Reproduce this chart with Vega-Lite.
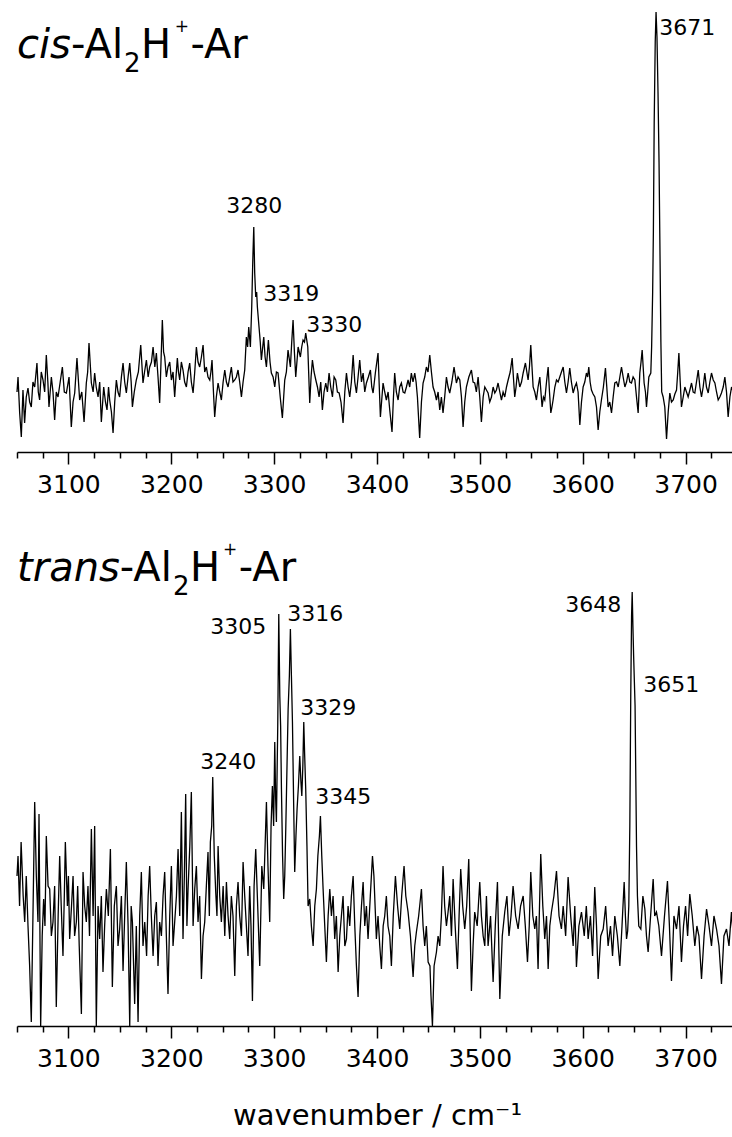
{
"$schema": "https://vega.github.io/schema/vega-lite/v6.json",
"padding": {"left": 14, "top": 0, "right": 0, "bottom": 0},
"background": "white",
"spacing": 42,
"config": {"view": {"stroke": null}, "font": "DejaVu Sans"},
"datasets": {
"cis": [{"wn":3050,"sig":60},{"wn":3051,"sig":75},{"wn":3052.6,"sig":39},{"wn":3054.2,"sig":15},{"wn":3055.8,"sig":62},{"wn":3057.4,"sig":29},{"wn":3059,"sig":55},{"wn":3060.7,"sig":64},{"wn":3062.3,"sig":50},{"wn":3063.9,"sig":45},{"wn":3065.5,"sig":70},{"wn":3067.2,"sig":65},{"wn":3069.4,"sig":89},{"wn":3070.7,"sig":60},{"wn":3072,"sig":52},{"wn":3073.6,"sig":80},{"wn":3075.3,"sig":72},{"wn":3076.9,"sig":60},{"wn":3078.5,"sig":97},{"wn":3080,"sig":70},{"wn":3081.1,"sig":45},{"wn":3083.4,"sig":75},{"wn":3085,"sig":60},{"wn":3086.6,"sig":32},{"wn":3088.2,"sig":60},{"wn":3089.9,"sig":55},{"wn":3092,"sig":70},{"wn":3094.1,"sig":85},{"wn":3096,"sig":60},{"wn":3098,"sig":59},{"wn":3100.6,"sig":75},{"wn":3102.8,"sig":25},{"wn":3104.5,"sig":50},{"wn":3106.1,"sig":59},{"wn":3108.3,"sig":94},{"wn":3110.9,"sig":52},{"wn":3113,"sig":60},{"wn":3115.2,"sig":30},{"wn":3117.4,"sig":69},{"wn":3118.7,"sig":80},{"wn":3120,"sig":109},{"wn":3122.3,"sig":69},{"wn":3124,"sig":60},{"wn":3125.5,"sig":79},{"wn":3127,"sig":65},{"wn":3128.8,"sig":55},{"wn":3130.4,"sig":70},{"wn":3132,"sig":30},{"wn":3134.3,"sig":65},{"wn":3136,"sig":50},{"wn":3137.5,"sig":42},{"wn":3139,"sig":65},{"wn":3140.1,"sig":52},{"wn":3141.8,"sig":40},{"wn":3143.4,"sig":19},{"wn":3145,"sig":50},{"wn":3146.6,"sig":72},{"wn":3148.2,"sig":60},{"wn":3149.8,"sig":55},{"wn":3151.5,"sig":75},{"wn":3153.1,"sig":89},{"wn":3154.7,"sig":70},{"wn":3156.3,"sig":59},{"wn":3158,"sig":75},{"wn":3159.6,"sig":89},{"wn":3161,"sig":70},{"wn":3162.2,"sig":45},{"wn":3164,"sig":60},{"wn":3166,"sig":72},{"wn":3168,"sig":80},{"wn":3170.3,"sig":107},{"wn":3172.5,"sig":69},{"wn":3174,"sig":80},{"wn":3175.8,"sig":92},{"wn":3177.5,"sig":75},{"wn":3179,"sig":85},{"wn":3180.7,"sig":90},{"wn":3182.3,"sig":105},{"wn":3184,"sig":85},{"wn":3185.5,"sig":99},{"wn":3187.1,"sig":75},{"wn":3188.7,"sig":49},{"wn":3190,"sig":90},{"wn":3191.3,"sig":132},{"wn":3192.5,"sig":100},{"wn":3193.6,"sig":95},{"wn":3195.2,"sig":75},{"wn":3196.8,"sig":85},{"wn":3198.5,"sig":90},{"wn":3200.1,"sig":72},{"wn":3201.7,"sig":80},{"wn":3203.3,"sig":55},{"wn":3204.6,"sig":75},{"wn":3205.9,"sig":94},{"wn":3207,"sig":80},{"wn":3208.2,"sig":72},{"wn":3209.8,"sig":90},{"wn":3211.4,"sig":82},{"wn":3213,"sig":70},{"wn":3214.7,"sig":65},{"wn":3216.3,"sig":80},{"wn":3217.9,"sig":89},{"wn":3219.5,"sig":70},{"wn":3221.2,"sig":59},{"wn":3222.8,"sig":80},{"wn":3224.4,"sig":105},{"wn":3226,"sig":90},{"wn":3227.6,"sig":85},{"wn":3229.3,"sig":95},{"wn":3230.9,"sig":107},{"wn":3232.5,"sig":80},{"wn":3234.1,"sig":85},{"wn":3235.7,"sig":75},{"wn":3237.4,"sig":72},{"wn":3238.5,"sig":80},{"wn":3239.6,"sig":92},{"wn":3241,"sig":60},{"wn":3242.2,"sig":35},{"wn":3243.8,"sig":55},{"wn":3245.5,"sig":69},{"wn":3247.1,"sig":60},{"wn":3248.7,"sig":52},{"wn":3250.4,"sig":70},{"wn":3252,"sig":82},{"wn":3253.6,"sig":70},{"wn":3255.2,"sig":65},{"wn":3256.8,"sig":75},{"wn":3258.4,"sig":85},{"wn":3260,"sig":70},{"wn":3261.7,"sig":72},{"wn":3263.3,"sig":75},{"wn":3264.9,"sig":82},{"wn":3266.5,"sig":70},{"wn":3268.2,"sig":55},{"wn":3269.8,"sig":70},{"wn":3271.4,"sig":82},{"wn":3273,"sig":115},{"wn":3274.2,"sig":105},{"wn":3275.3,"sig":125},{"wn":3276.9,"sig":105},{"wn":3278.2,"sig":145},{"wn":3279.2,"sig":190},{"wn":3280.2,"sig":225},{"wn":3281.1,"sig":179},{"wn":3282.1,"sig":155},{"wn":3283,"sig":160},{"wn":3283.7,"sig":145},{"wn":3285.3,"sig":125},{"wn":3286.5,"sig":110},{"wn":3287.6,"sig":92},{"wn":3289.9,"sig":115},{"wn":3291.2,"sig":95},{"wn":3292.5,"sig":85},{"wn":3294.4,"sig":112},{"wn":3296,"sig":90},{"wn":3297.3,"sig":79},{"wn":3299,"sig":75},{"wn":3300.6,"sig":65},{"wn":3302.2,"sig":80},{"wn":3303.8,"sig":79},{"wn":3305.9,"sig":55},{"wn":3308,"sig":34},{"wn":3310.3,"sig":72},{"wn":3311.9,"sig":80},{"wn":3313.5,"sig":102},{"wn":3315.8,"sig":85},{"wn":3317.1,"sig":110},{"wn":3318.4,"sig":132},{"wn":3319.7,"sig":100},{"wn":3321,"sig":75},{"wn":3323.3,"sig":105},{"wn":3325.5,"sig":95},{"wn":3326.8,"sig":105},{"wn":3328.1,"sig":112},{"wn":3329.5,"sig":110},{"wn":3330.7,"sig":119},{"wn":3332.7,"sig":105},{"wn":3334.6,"sig":49},{"wn":3335.9,"sig":75},{"wn":3337.2,"sig":92},{"wn":3338.8,"sig":80},{"wn":3340.5,"sig":72},{"wn":3342.1,"sig":65},{"wn":3343.7,"sig":55},{"wn":3345.3,"sig":70},{"wn":3346.9,"sig":42},{"wn":3348.5,"sig":60},{"wn":3350.2,"sig":69},{"wn":3351.8,"sig":60},{"wn":3353.4,"sig":79},{"wn":3355,"sig":65},{"wn":3356.7,"sig":55},{"wn":3358.3,"sig":75},{"wn":3359.9,"sig":72},{"wn":3361.5,"sig":60},{"wn":3363.2,"sig":59},{"wn":3365,"sig":50},{"wn":3367,"sig":29},{"wn":3368.7,"sig":60},{"wn":3370.3,"sig":79},{"wn":3371.9,"sig":65},{"wn":3373.5,"sig":55},{"wn":3375.1,"sig":70},{"wn":3376.8,"sig":97},{"wn":3378.4,"sig":70},{"wn":3380,"sig":59},{"wn":3381.6,"sig":75},{"wn":3383.2,"sig":92},{"wn":3384.9,"sig":70},{"wn":3386.5,"sig":79},{"wn":3388.1,"sig":60},{"wn":3389.7,"sig":69},{"wn":3391.6,"sig":75},{"wn":3393.6,"sig":82},{"wn":3394.9,"sig":65},{"wn":3396.2,"sig":59},{"wn":3398.4,"sig":79},{"wn":3401,"sig":99},{"wn":3403.3,"sig":35},{"wn":3405.9,"sig":69},{"wn":3407.5,"sig":60},{"wn":3409.1,"sig":52},{"wn":3410.8,"sig":60},{"wn":3412.4,"sig":42},{"wn":3414.6,"sig":20},{"wn":3416,"sig":55},{"wn":3417.2,"sig":79},{"wn":3418.8,"sig":60},{"wn":3420.5,"sig":52},{"wn":3422.1,"sig":65},{"wn":3423.7,"sig":69},{"wn":3425.4,"sig":60},{"wn":3427,"sig":59},{"wn":3428.6,"sig":65},{"wn":3430.2,"sig":72},{"wn":3431.8,"sig":65},{"wn":3433.4,"sig":79},{"wn":3435,"sig":70},{"wn":3436.7,"sig":79},{"wn":3438,"sig":70},{"wn":3439.3,"sig":55},{"wn":3441.5,"sig":14},{"wn":3443.2,"sig":50},{"wn":3444.8,"sig":69},{"wn":3446.4,"sig":75},{"wn":3448,"sig":85},{"wn":3449.6,"sig":80},{"wn":3451.3,"sig":97},{"wn":3452.9,"sig":80},{"wn":3454.5,"sig":65},{"wn":3456.1,"sig":60},{"wn":3457.8,"sig":52},{"wn":3459.4,"sig":60},{"wn":3461,"sig":42},{"wn":3462.6,"sig":55},{"wn":3464.2,"sig":39},{"wn":3465.8,"sig":55},{"wn":3467.5,"sig":75},{"wn":3469.1,"sig":65},{"wn":3470.7,"sig":59},{"wn":3472.8,"sig":70},{"wn":3474.9,"sig":85},{"wn":3477.2,"sig":69},{"wn":3478.8,"sig":75},{"wn":3480.5,"sig":72},{"wn":3482.1,"sig":55},{"wn":3483.7,"sig":25},{"wn":3485.3,"sig":50},{"wn":3486.9,"sig":65},{"wn":3489.3,"sig":75},{"wn":3491.8,"sig":82},{"wn":3493.4,"sig":70},{"wn":3495,"sig":69},{"wn":3496.6,"sig":60},{"wn":3498.3,"sig":75},{"wn":3499.9,"sig":55},{"wn":3501.5,"sig":30},{"wn":3503.2,"sig":55},{"wn":3504.8,"sig":65},{"wn":3506.4,"sig":62},{"wn":3508,"sig":59},{"wn":3509.6,"sig":50},{"wn":3511.3,"sig":55},{"wn":3512.9,"sig":65},{"wn":3514.5,"sig":59},{"wn":3516.1,"sig":62},{"wn":3517.7,"sig":69},{"wn":3519.4,"sig":60},{"wn":3521,"sig":52},{"wn":3522.6,"sig":60},{"wn":3524.2,"sig":55},{"wn":3525.9,"sig":65},{"wn":3527.5,"sig":72},{"wn":3529.5,"sig":80},{"wn":3531.4,"sig":94},{"wn":3533.9,"sig":55},{"wn":3535.2,"sig":65},{"wn":3536.5,"sig":79},{"wn":3538.8,"sig":65},{"wn":3540.5,"sig":70},{"wn":3542.1,"sig":79},{"wn":3544.3,"sig":89},{"wn":3546.9,"sig":72},{"wn":3548.2,"sig":85},{"wn":3549.5,"sig":107},{"wn":3550.7,"sig":85},{"wn":3551.8,"sig":65},{"wn":3553.4,"sig":60},{"wn":3555,"sig":52},{"wn":3556.6,"sig":65},{"wn":3558.3,"sig":75},{"wn":3560.5,"sig":45},{"wn":3561.8,"sig":55},{"wn":3563.1,"sig":52},{"wn":3564.8,"sig":70},{"wn":3566.4,"sig":85},{"wn":3567.7,"sig":60},{"wn":3569,"sig":39},{"wn":3570.1,"sig":45},{"wn":3571.2,"sig":52},{"wn":3572.9,"sig":65},{"wn":3574.5,"sig":72},{"wn":3576.1,"sig":70},{"wn":3577.7,"sig":75},{"wn":3579.3,"sig":80},{"wn":3581,"sig":85},{"wn":3582.6,"sig":70},{"wn":3584.2,"sig":59},{"wn":3585.8,"sig":70},{"wn":3587.4,"sig":84},{"wn":3589,"sig":70},{"wn":3590.7,"sig":59},{"wn":3592.3,"sig":65},{"wn":3593.9,"sig":69},{"wn":3595.5,"sig":60},{"wn":3597.2,"sig":27},{"wn":3598.8,"sig":50},{"wn":3600.4,"sig":65},{"wn":3602,"sig":70},{"wn":3603.6,"sig":79},{"wn":3604.8,"sig":75},{"wn":3605.9,"sig":85},{"wn":3607.2,"sig":70},{"wn":3608.5,"sig":62},{"wn":3610.1,"sig":58},{"wn":3611.8,"sig":55},{"wn":3613.4,"sig":45},{"wn":3615,"sig":22},{"wn":3616.6,"sig":40},{"wn":3618.2,"sig":52},{"wn":3620.1,"sig":65},{"wn":3622.1,"sig":84},{"wn":3623.4,"sig":65},{"wn":3624.7,"sig":45},{"wn":3626.3,"sig":50},{"wn":3628,"sig":39},{"wn":3629.6,"sig":55},{"wn":3631.2,"sig":69},{"wn":3632.9,"sig":70},{"wn":3634.5,"sig":65},{"wn":3636.1,"sig":75},{"wn":3637.7,"sig":85},{"wn":3639.3,"sig":75},{"wn":3641,"sig":65},{"wn":3642.6,"sig":70},{"wn":3644.2,"sig":79},{"wn":3645.8,"sig":70},{"wn":3647.4,"sig":69},{"wn":3649,"sig":75},{"wn":3650.7,"sig":72},{"wn":3652.3,"sig":55},{"wn":3653.9,"sig":39},{"wn":3655.5,"sig":79},{"wn":3656.7,"sig":90},{"wn":3657.8,"sig":102},{"wn":3659.7,"sig":69},{"wn":3661,"sig":60},{"wn":3662,"sig":45},{"wn":3663.2,"sig":60},{"wn":3664.3,"sig":75},{"wn":3666.2,"sig":79},{"wn":3667,"sig":105},{"wn":3668,"sig":160},{"wn":3668.7,"sig":220},{"wn":3669.5,"sig":330},{"wn":3670.5,"sig":410},{"wn":3671.3,"sig":440},{"wn":3672.2,"sig":415},{"wn":3673.2,"sig":360},{"wn":3674.2,"sig":290},{"wn":3675,"sig":212},{"wn":3676,"sig":110},{"wn":3676.8,"sig":60},{"wn":3678.2,"sig":55},{"wn":3679.8,"sig":45},{"wn":3681.5,"sig":13},{"wn":3683.1,"sig":40},{"wn":3684.7,"sig":59},{"wn":3686.3,"sig":50},{"wn":3688,"sig":52},{"wn":3689.6,"sig":58},{"wn":3691.2,"sig":62},{"wn":3692.4,"sig":80},{"wn":3693.5,"sig":99},{"wn":3694.8,"sig":70},{"wn":3696,"sig":45},{"wn":3697.7,"sig":55},{"wn":3699.3,"sig":65},{"wn":3700.9,"sig":60},{"wn":3702.5,"sig":55},{"wn":3704.2,"sig":62},{"wn":3705.8,"sig":69},{"wn":3707.4,"sig":60},{"wn":3709,"sig":59},{"wn":3710.6,"sig":70},{"wn":3712.3,"sig":82},{"wn":3713.9,"sig":65},{"wn":3715.5,"sig":55},{"wn":3717.1,"sig":65},{"wn":3718.7,"sig":79},{"wn":3720.3,"sig":65},{"wn":3722,"sig":59},{"wn":3723.6,"sig":70},{"wn":3725.2,"sig":79},{"wn":3726.9,"sig":72},{"wn":3728.5,"sig":69},{"wn":3730.1,"sig":60},{"wn":3731.7,"sig":52},{"wn":3733.3,"sig":55},{"wn":3734.9,"sig":59},{"wn":3736.6,"sig":65},{"wn":3738.2,"sig":75},{"wn":3739.8,"sig":60},{"wn":3741.4,"sig":35},{"wn":3743.1,"sig":55},{"wn":3744.7,"sig":65},{"wn":3746.3,"sig":60},{"wn":3747.9,"sig":62},{"wn":3750,"sig":60}],
"trans": [{"wn":3050,"sig":150},{"wn":3051,"sig":170},{"wn":3052.5,"sig":120},{"wn":3054,"sig":184},{"wn":3056,"sig":130},{"wn":3057.5,"sig":104},{"wn":3059,"sig":150},{"wn":3060.7,"sig":100},{"wn":3062.3,"sig":60},{"wn":3063.9,"sig":4},{"wn":3065.5,"sig":110},{"wn":3067.2,"sig":224},{"wn":3068.8,"sig":150},{"wn":3070.4,"sig":104},{"wn":3071.4,"sig":212},{"wn":3073,"sig":0},{"wn":3074.5,"sig":90},{"wn":3075.9,"sig":127},{"wn":3077.2,"sig":100},{"wn":3078.5,"sig":190},{"wn":3080.2,"sig":140},{"wn":3081.8,"sig":137},{"wn":3083.4,"sig":90},{"wn":3085,"sig":104},{"wn":3086.6,"sig":140},{"wn":3088.2,"sig":19},{"wn":3090,"sig":110},{"wn":3091.5,"sig":170},{"wn":3093,"sig":120},{"wn":3094.7,"sig":70},{"wn":3096,"sig":130},{"wn":3097,"sig":184},{"wn":3099,"sig":120},{"wn":3100,"sig":150},{"wn":3101.2,"sig":87},{"wn":3103,"sig":120},{"wn":3104.5,"sig":150},{"wn":3106,"sig":90},{"wn":3107.7,"sig":104},{"wn":3109,"sig":140},{"wn":3110.5,"sig":80},{"wn":3112.6,"sig":12},{"wn":3114.2,"sig":154},{"wn":3115.8,"sig":120},{"wn":3117.4,"sig":104},{"wn":3119,"sig":140},{"wn":3120.5,"sig":90},{"wn":3122.3,"sig":197},{"wn":3124,"sig":110},{"wn":3125.5,"sig":200},{"wn":3127.1,"sig":0},{"wn":3128.8,"sig":120},{"wn":3130.4,"sig":87},{"wn":3132,"sig":130},{"wn":3133.6,"sig":54},{"wn":3135.2,"sig":100},{"wn":3136.9,"sig":137},{"wn":3138.8,"sig":110},{"wn":3140.8,"sig":177},{"wn":3142.7,"sig":39},{"wn":3144.6,"sig":120},{"wn":3146.6,"sig":140},{"wn":3148.2,"sig":80},{"wn":3149.8,"sig":97},{"wn":3151.5,"sig":130},{"wn":3153.1,"sig":55},{"wn":3154.7,"sig":110},{"wn":3156.3,"sig":164},{"wn":3158,"sig":100},{"wn":3159.6,"sig":0},{"wn":3161,"sig":120},{"wn":3162.2,"sig":104},{"wn":3164.4,"sig":22},{"wn":3166,"sig":100},{"wn":3167.7,"sig":4},{"wn":3169.3,"sig":110},{"wn":3170.9,"sig":154},{"wn":3172.5,"sig":80},{"wn":3174.2,"sig":104},{"wn":3176,"sig":70},{"wn":3177.5,"sig":130},{"wn":3179,"sig":160},{"wn":3180.6,"sig":110},{"wn":3182.3,"sig":70},{"wn":3183.9,"sig":110},{"wn":3185.5,"sig":124},{"wn":3187.1,"sig":60},{"wn":3188.7,"sig":104},{"wn":3190.4,"sig":90},{"wn":3192,"sig":130},{"wn":3193.6,"sig":154},{"wn":3195.2,"sig":90},{"wn":3196.8,"sig":32},{"wn":3198.5,"sig":110},{"wn":3200.1,"sig":160},{"wn":3201.7,"sig":80},{"wn":3203.3,"sig":104},{"wn":3205,"sig":130},{"wn":3206.6,"sig":177},{"wn":3208.2,"sig":110},{"wn":3209.8,"sig":214},{"wn":3211.4,"sig":87},{"wn":3212.7,"sig":150},{"wn":3214,"sig":232},{"wn":3215.2,"sig":100},{"wn":3216.3,"sig":137},{"wn":3218,"sig":180},{"wn":3219.5,"sig":234},{"wn":3221.2,"sig":100},{"wn":3222.8,"sig":137},{"wn":3224.4,"sig":160},{"wn":3226,"sig":104},{"wn":3227.6,"sig":130},{"wn":3229.3,"sig":47},{"wn":3230.9,"sig":90},{"wn":3232.5,"sig":104},{"wn":3234.1,"sig":140},{"wn":3235.7,"sig":174},{"wn":3237,"sig":110},{"wn":3238,"sig":184},{"wn":3239.3,"sig":200},{"wn":3240.3,"sig":249},{"wn":3241.8,"sig":170},{"wn":3243.2,"sig":134},{"wn":3244.4,"sig":110},{"wn":3245.5,"sig":180},{"wn":3247.1,"sig":130},{"wn":3248.7,"sig":104},{"wn":3250.4,"sig":140},{"wn":3252,"sig":90},{"wn":3253.6,"sig":144},{"wn":3255.2,"sig":110},{"wn":3256.8,"sig":87},{"wn":3258.4,"sig":130},{"wn":3260,"sig":110},{"wn":3261.7,"sig":50},{"wn":3263.3,"sig":120},{"wn":3264.9,"sig":144},{"wn":3266.5,"sig":110},{"wn":3268.2,"sig":90},{"wn":3269.8,"sig":164},{"wn":3271.4,"sig":130},{"wn":3273,"sig":100},{"wn":3274.6,"sig":70},{"wn":3276.2,"sig":140},{"wn":3277.5,"sig":100},{"wn":3278.9,"sig":25},{"wn":3280.5,"sig":140},{"wn":3282.1,"sig":177},{"wn":3284,"sig":120},{"wn":3286,"sig":60},{"wn":3288,"sig":160},{"wn":3289.9,"sig":137},{"wn":3291.2,"sig":180},{"wn":3292.5,"sig":224},{"wn":3294,"sig":160},{"wn":3295.7,"sig":104},{"wn":3297,"sig":200},{"wn":3298.3,"sig":240},{"wn":3299.5,"sig":200},{"wn":3300.6,"sig":284},{"wn":3301.4,"sig":230},{"wn":3302.2,"sig":204},{"wn":3303.5,"sig":300},{"wn":3304.5,"sig":412},{"wn":3305.5,"sig":330},{"wn":3306.3,"sig":300},{"wn":3307.1,"sig":237},{"wn":3308.2,"sig":170},{"wn":3309.3,"sig":127},{"wn":3310.3,"sig":150},{"wn":3311.3,"sig":197},{"wn":3312.5,"sig":260},{"wn":3313.6,"sig":317},{"wn":3314.8,"sig":350},{"wn":3315.8,"sig":397},{"wn":3316.8,"sig":350},{"wn":3317.8,"sig":304},{"wn":3319,"sig":220},{"wn":3320,"sig":154},{"wn":3321.2,"sig":190},{"wn":3322.3,"sig":217},{"wn":3323.6,"sig":240},{"wn":3324.9,"sig":270},{"wn":3326,"sig":245},{"wn":3326.9,"sig":230},{"wn":3327.9,"sig":260},{"wn":3328.8,"sig":304},{"wn":3329.7,"sig":270},{"wn":3330.7,"sig":237},{"wn":3331.9,"sig":180},{"wn":3333,"sig":120},{"wn":3334.6,"sig":127},{"wn":3336.2,"sig":100},{"wn":3337.9,"sig":80},{"wn":3339.5,"sig":120},{"wn":3341.1,"sig":137},{"wn":3342.5,"sig":170},{"wn":3344,"sig":190},{"wn":3345,"sig":210},{"wn":3346.3,"sig":170},{"wn":3347.6,"sig":137},{"wn":3349.2,"sig":100},{"wn":3350.8,"sig":64},{"wn":3352.5,"sig":110},{"wn":3354.1,"sig":137},{"wn":3355.7,"sig":110},{"wn":3357.3,"sig":130},{"wn":3358.9,"sig":87},{"wn":3360.5,"sig":110},{"wn":3362.2,"sig":54},{"wn":3363.8,"sig":90},{"wn":3365.4,"sig":110},{"wn":3367,"sig":130},{"wn":3368.7,"sig":80},{"wn":3370.3,"sig":87},{"wn":3371.9,"sig":120},{"wn":3373.5,"sig":100},{"wn":3375.1,"sig":130},{"wn":3376.8,"sig":150},{"wn":3378.4,"sig":100},{"wn":3380,"sig":60},{"wn":3381.6,"sig":29},{"wn":3383.3,"sig":90},{"wn":3384.9,"sig":120},{"wn":3386.5,"sig":144},{"wn":3388.1,"sig":100},{"wn":3389.7,"sig":120},{"wn":3391.3,"sig":87},{"wn":3393.5,"sig":130},{"wn":3395.6,"sig":170},{"wn":3397,"sig":150},{"wn":3399.4,"sig":87},{"wn":3401,"sig":110},{"wn":3402.7,"sig":80},{"wn":3404.3,"sig":57},{"wn":3406,"sig":100},{"wn":3407.5,"sig":110},{"wn":3409.1,"sig":130},{"wn":3410.7,"sig":100},{"wn":3412.4,"sig":90},{"wn":3414,"sig":60},{"wn":3415.8,"sig":110},{"wn":3417.9,"sig":150},{"wn":3420,"sig":120},{"wn":3422.1,"sig":97},{"wn":3424,"sig":130},{"wn":3426.3,"sig":160},{"wn":3428,"sig":130},{"wn":3430.2,"sig":114},{"wn":3432.5,"sig":90},{"wn":3435.1,"sig":49},{"wn":3436.7,"sig":80},{"wn":3438.3,"sig":94},{"wn":3440.5,"sig":110},{"wn":3443.2,"sig":137},{"wn":3444.8,"sig":100},{"wn":3446.4,"sig":80},{"wn":3448,"sig":100},{"wn":3449.7,"sig":64},{"wn":3451.5,"sig":60},{"wn":3452.5,"sig":30},{"wn":3453.9,"sig":0},{"wn":3455.5,"sig":60},{"wn":3457.8,"sig":74},{"wn":3459.4,"sig":90},{"wn":3461,"sig":80},{"wn":3462.6,"sig":110},{"wn":3464.2,"sig":160},{"wn":3465.8,"sig":120},{"wn":3467.5,"sig":100},{"wn":3469.1,"sig":114},{"wn":3470.7,"sig":130},{"wn":3472.4,"sig":90},{"wn":3474,"sig":147},{"wn":3476,"sig":100},{"wn":3478.2,"sig":57},{"wn":3479.8,"sig":110},{"wn":3481.4,"sig":157},{"wn":3483.3,"sig":120},{"wn":3485.3,"sig":97},{"wn":3487.2,"sig":120},{"wn":3489.2,"sig":167},{"wn":3490.5,"sig":100},{"wn":3491.8,"sig":35},{"wn":3493.4,"sig":80},{"wn":3495,"sig":114},{"wn":3497.4,"sig":100},{"wn":3499.9,"sig":144},{"wn":3501.5,"sig":110},{"wn":3503.2,"sig":90},{"wn":3504.8,"sig":80},{"wn":3506.4,"sig":130},{"wn":3508,"sig":80},{"wn":3510.4,"sig":110},{"wn":3512.9,"sig":44},{"wn":3515,"sig":100},{"wn":3517.1,"sig":144},{"wn":3518.2,"sig":90},{"wn":3519.4,"sig":27},{"wn":3521.8,"sig":90},{"wn":3524.2,"sig":114},{"wn":3526.3,"sig":130},{"wn":3528.3,"sig":90},{"wn":3530.3,"sig":110},{"wn":3532.3,"sig":140},{"wn":3534.8,"sig":110},{"wn":3537.2,"sig":97},{"wn":3539.6,"sig":120},{"wn":3542.1,"sig":130},{"wn":3544.2,"sig":100},{"wn":3546.3,"sig":64},{"wn":3548,"sig":100},{"wn":3549.5,"sig":154},{"wn":3551.5,"sig":110},{"wn":3553.4,"sig":97},{"wn":3555,"sig":110},{"wn":3556.6,"sig":57},{"wn":3558,"sig":120},{"wn":3559.2,"sig":172},{"wn":3561.2,"sig":120},{"wn":3563.1,"sig":87},{"wn":3564.8,"sig":110},{"wn":3566.4,"sig":57},{"wn":3568,"sig":100},{"wn":3569.6,"sig":114},{"wn":3572,"sig":130},{"wn":3574.5,"sig":155},{"wn":3577,"sig":110},{"wn":3579.3,"sig":97},{"wn":3581,"sig":120},{"wn":3583.4,"sig":90},{"wn":3585.8,"sig":149},{"wn":3588.3,"sig":110},{"wn":3590.7,"sig":80},{"wn":3592.3,"sig":120},{"wn":3593.9,"sig":59},{"wn":3596.3,"sig":100},{"wn":3598.8,"sig":114},{"wn":3601.5,"sig":90},{"wn":3603.5,"sig":120},{"wn":3605.3,"sig":87},{"wn":3607.5,"sig":110},{"wn":3609.6,"sig":70},{"wn":3611.7,"sig":139},{"wn":3613.4,"sig":100},{"wn":3615,"sig":47},{"wn":3617.5,"sig":90},{"wn":3619.9,"sig":97},{"wn":3622.3,"sig":120},{"wn":3624.7,"sig":80},{"wn":3627,"sig":100},{"wn":3629,"sig":70},{"wn":3631.2,"sig":110},{"wn":3633.7,"sig":90},{"wn":3636.1,"sig":60},{"wn":3638.2,"sig":100},{"wn":3640.3,"sig":144},{"wn":3641.5,"sig":110},{"wn":3642.6,"sig":87},{"wn":3643.7,"sig":95},{"wn":3644.8,"sig":120},{"wn":3645.8,"sig":200},{"wn":3646.7,"sig":330},{"wn":3647.5,"sig":410},{"wn":3648.1,"sig":434},{"wn":3648.8,"sig":400},{"wn":3649.5,"sig":370},{"wn":3650.2,"sig":345},{"wn":3650.9,"sig":320},{"wn":3651.6,"sig":250},{"wn":3652.3,"sig":180},{"wn":3653.2,"sig":130},{"wn":3654.5,"sig":100},{"wn":3656.5,"sig":97},{"wn":3658.5,"sig":130},{"wn":3660.4,"sig":117},{"wn":3662,"sig":90},{"wn":3663.6,"sig":74},{"wn":3666,"sig":110},{"wn":3668.5,"sig":147},{"wn":3670,"sig":110},{"wn":3671.7,"sig":114},{"wn":3674,"sig":100},{"wn":3676.6,"sig":70},{"wn":3679.5,"sig":110},{"wn":3682.4,"sig":145},{"wn":3684.3,"sig":100},{"wn":3686.3,"sig":45},{"wn":3688.7,"sig":110},{"wn":3691.2,"sig":97},{"wn":3693.6,"sig":120},{"wn":3696,"sig":64},{"wn":3698,"sig":100},{"wn":3700,"sig":120},{"wn":3702,"sig":90},{"wn":3704.1,"sig":132},{"wn":3706.5,"sig":110},{"wn":3709,"sig":80},{"wn":3711,"sig":100},{"wn":3713,"sig":90},{"wn":3715.5,"sig":47},{"wn":3718,"sig":90},{"wn":3720.4,"sig":117},{"wn":3722.8,"sig":100},{"wn":3725.2,"sig":80},{"wn":3727.6,"sig":110},{"wn":3730.1,"sig":97},{"wn":3732.5,"sig":80},{"wn":3734.9,"sig":42},{"wn":3737.3,"sig":90},{"wn":3739.8,"sig":97},{"wn":3742.2,"sig":80},{"wn":3744.6,"sig":114},{"wn":3746.3,"sig":90},{"wn":3748,"sig":100},{"wn":3750,"sig":95}],
"cisPeaks": [{"wn":3253.4,"sig":239,"label":"3280"},{"wn":3289.4,"sig":151,"label":"3319"},{"wn":3331.2,"sig":120,"label":"3330"},{"wn":3674.4,"sig":417,"label":"3671"}],
"transPeaks": [{"wn":3237.8,"sig":392,"label":"3305"},{"wn":3312.7,"sig":405,"label":"3316"},{"wn":3325.3,"sig":311,"label":"3329"},{"wn":3228.1,"sig":257,"label":"3240"},{"wn":3339.9,"sig":222,"label":"3345"},{"wn":3583.0,"sig":414,"label":"3648"},{"wn":3658.8,"sig":334,"label":"3651"}],
"cisItalic": [{"wn":3050,"sig":394,"t":"cis"}],
"cisPlain": [{"wn":3102.5,"sig":394,"t":"-Al"},{"wn":3170.6,"sig":394,"t":"H"},{"wn":3218.6,"sig":394,"t":"-Ar"}],
"cisSub": [{"wn":3154.0,"sig":380,"t":"2"}],
"cisSup": [{"wn":3203.4,"sig":420,"t":"+"}],
"transItalic": [{"wn":3050,"sig":445,"t":"trans"}],
"transPlain": [{"wn":3149.9,"sig":445,"t":"-Al"},{"wn":3218.2,"sig":445,"t":"H"},{"wn":3265.6,"sig":445,"t":"-Ar"}],
"transSub": [{"wn":3201.7,"sig":431,"t":"2"}],
"transSup": [{"wn":3250.3,"sig":471,"t":"+"}]
},
"vconcat": [
{
"width": 720, "height": 452,
"encoding": {
"x": {"field": "wn", "type": "quantitative", "scale": {"domain": [3050, 3750], "nice": false, "zero": false},
"axis": {"values": [3050,3075,3100,3125,3150,3175,3200,3225,3250,3275,3300,3325,3350,3375,3400,3425,3450,3475,3500,3525,3550,3575,3600,3625,3650,3675,3700,3725,3750], "format": "d", "labelExpr": "datum.value % 100 === 0 ? datum.label : ''", "tickSize": {"condition": {"test": "datum.value % 100 === 0", "value": 12}, "value": 6}, "labelFontSize": 25, "labelColor": "black", "labelPadding": 8, "labelFont": "DejaVu Sans", "domainColor": "black", "domainWidth": 1.5, "tickColor": "black", "tickWidth": 1.5, "grid": false, "labelFlush": false, "labelOverlap": false, "title": null}},
"y": {"field": "sig", "type": "quantitative", "scale": {"domain": [0, 452], "nice": false}, "axis": null}
},
"layer": [
{"data": {"name": "cis"}, "mark": {"type": "line", "color": "black", "strokeWidth": 1.3}},
{"data": {"name": "cisPeaks"}, "mark": {"type": "text", "align": "left", "baseline": "alphabetic", "fontSize": 22, "font": "DejaVu Sans", "color": "black"}, "encoding": {"text": {"field": "label"}}},
{"data": {"name": "cisItalic"}, "mark": {"type": "text", "align": "left", "baseline": "alphabetic", "fontSize": 40, "font": "DejaVu Sans", "fontStyle": "italic", "color": "black"}, "encoding": {"text": {"field": "t"}}},
{"data": {"name": "cisPlain"}, "mark": {"type": "text", "align": "left", "baseline": "alphabetic", "fontSize": 40, "font": "DejaVu Sans", "color": "black"}, "encoding": {"text": {"field": "t"}}},
{"data": {"name": "cisSub"}, "mark": {"type": "text", "align": "left", "baseline": "alphabetic", "fontSize": 26, "font": "DejaVu Sans", "color": "black"}, "encoding": {"text": {"field": "t"}}},
{"data": {"name": "cisSup"}, "mark": {"type": "text", "align": "left", "baseline": "alphabetic", "fontSize": 17, "font": "DejaVu Sans", "color": "black"}, "encoding": {"text": {"field": "t"}}}
]
},
{
"width": 720, "height": 487,
"encoding": {
"x": {"field": "wn", "type": "quantitative", "scale": {"domain": [3050, 3750], "nice": false, "zero": false},
"axis": {"values": [3050,3075,3100,3125,3150,3175,3200,3225,3250,3275,3300,3325,3350,3375,3400,3425,3450,3475,3500,3525,3550,3575,3600,3625,3650,3675,3700,3725,3750], "format": "d", "labelExpr": "datum.value % 100 === 0 ? datum.label : ''", "tickSize": {"condition": {"test": "datum.value % 100 === 0", "value": 12}, "value": 6}, "labelFontSize": 25, "labelColor": "black", "labelPadding": 8, "labelFont": "DejaVu Sans", "domainColor": "black", "domainWidth": 1.5, "tickColor": "black", "tickWidth": 1.5, "grid": false, "labelFlush": false, "labelOverlap": false, "title": "wavenumber / cm⁻¹", "titleFont": "DejaVu Sans", "titleFontSize": 29, "titleFontWeight": "normal", "titleColor": "black", "titlePadding": 30}},
"y": {"field": "sig", "type": "quantitative", "scale": {"domain": [0, 487], "nice": false}, "axis": null}
},
"layer": [
{"data": {"name": "trans"}, "mark": {"type": "line", "color": "black", "strokeWidth": 1.3}},
{"data": {"name": "transPeaks"}, "mark": {"type": "text", "align": "left", "baseline": "alphabetic", "fontSize": 22, "font": "DejaVu Sans", "color": "black"}, "encoding": {"text": {"field": "label"}}},
{"data": {"name": "transItalic"}, "mark": {"type": "text", "align": "left", "baseline": "alphabetic", "fontSize": 40, "font": "DejaVu Sans", "fontStyle": "italic", "color": "black"}, "encoding": {"text": {"field": "t"}}},
{"data": {"name": "transPlain"}, "mark": {"type": "text", "align": "left", "baseline": "alphabetic", "fontSize": 40, "font": "DejaVu Sans", "color": "black"}, "encoding": {"text": {"field": "t"}}},
{"data": {"name": "transSub"}, "mark": {"type": "text", "align": "left", "baseline": "alphabetic", "fontSize": 26, "font": "DejaVu Sans", "color": "black"}, "encoding": {"text": {"field": "t"}}},
{"data": {"name": "transSup"}, "mark": {"type": "text", "align": "left", "baseline": "alphabetic", "fontSize": 17, "font": "DejaVu Sans", "color": "black"}, "encoding": {"text": {"field": "t"}}}
]
}
]
}
